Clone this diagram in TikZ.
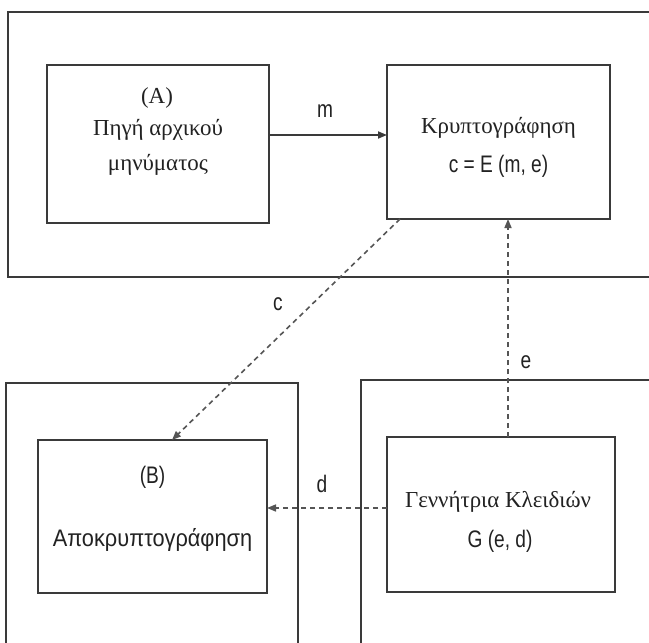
\documentclass[tikz,border=0pt]{standalone}
\usepackage{fontspec}
\setmainfont{Liberation Serif}
\newfontfamily\narrowsans[FakeStretch=0.8]{Liberation Sans}
\newfontfamily\widersans[FakeStretch=0.91]{Liberation Sans}
\usetikzlibrary{arrows.meta}
\definecolor{linegray}{HTML}{3A3A3A}
\definecolor{dashgray}{HTML}{555555}
\definecolor{inkgray}{HTML}{222222}
\begin{document}
\begin{tikzpicture}[x=1bp,y=-1bp,
  frame/.style={draw=linegray, line width=1.7bp},
  box/.style={draw=linegray, line width=1.8bp, rectangle, inner sep=0pt, outer sep=0pt},
  flow/.style={draw=linegray, line width=1.8bp, -{Triangle[length=9bp,width=7bp]}},
  keyflow/.style={draw=dashgray, line width=1.6bp, dash pattern=on 5bp off 4bp,
                  -{Triangle[length=9bp,width=7bp]}},
  serif/.style={font=\fontsize{23}{28}\selectfont, anchor=base, text=inkgray, inner sep=0pt},
  sans/.style={font=\narrowsans\fontsize{24}{28}\selectfont, anchor=base, text=inkgray, inner sep=0pt}]

  % page area
  \fill[white] (0,0) rectangle (649,643);
  \useasboundingbox (0,0) rectangle (649,643);
  \clip (0,0) rectangle (649,643);

  % enclosing frames of the three parties
  \draw[frame] (8,12) rectangle (660,277);
  \draw[frame] (6,383) rectangle (298,660);
  \draw[frame] (361,380) rectangle (660,660);

  % processing blocks
  \node[box, minimum width=222bp, minimum height=158bp] (src) at (158,144) {};
  \node[box, minimum width=223bp, minimum height=154bp] (enc) at (498.5,142) {};
  \node[box, minimum width=229bp, minimum height=153bp] (dec) at (152.5,516.5) {};
  \node[box, minimum width=228bp, minimum height=155bp] (keygen) at (501,514.5) {};

  % block texts
  \node[serif] (srcA) at (157,104) {(A)};
  \node[serif] (srcL1) at (158,136) {Πηγή αρχικού};
  \node[serif] (srcL2) at (158,171) {μηνύματος};
  \node[serif] (encL1) at (498.5,134) {Κρυπτογράφηση};
  \node[sans]  (encL2) at (498.5,173) {c = E (m, e)};
  \node[sans]  (decB)  at (152.5,483) {(B)};
  \node[sans, font=\widersans\fontsize{24}{28}\selectfont] (decL1) at (152.5,546) {Αποκρυπτογράφηση};
  \node[serif] (keyL1) at (498,507) {Γεννήτρια Κλειδιών};
  \node[sans]  (keyL2) at (500,547) {G (e, d)};

  % message flow
  \draw[flow] ([yshift=9bp]src.east) -- ([yshift=9bp]src.east -| enc.west);
  \node[sans] (lm) at (325,118) {m};

  % ciphertext to the receiver
  \draw[keyflow] ([xshift=13bp]enc.south west) -- ([xshift=134bp]dec.north west);
  \node[sans] (lc) at (278,310) {c};

  % keys from the generator
  \draw[keyflow] ([xshift=7bp]keygen.north) -- ([xshift=7bp]keygen.north |- enc.south);
  \node[sans] (le) at (526,368) {e};
  \draw[keyflow] ([yshift=6.5bp]keygen.west) -- ([yshift=6.5bp]keygen.west -| dec.east);
  \node[sans] (ld) at (322,492) {d};
\end{tikzpicture}
\end{document}
